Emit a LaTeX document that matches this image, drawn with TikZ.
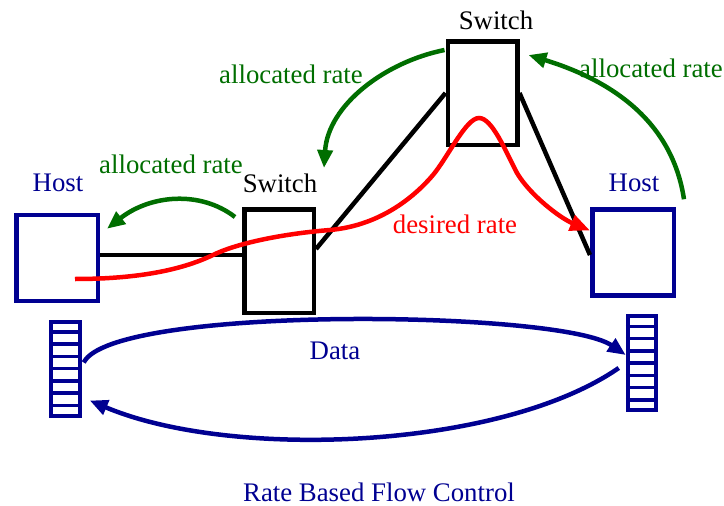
\documentclass[tikz,border=0pt]{standalone}
\usepackage{fontspec}
\setmainfont{Liberation Serif}
\usetikzlibrary{arrows.meta,calc}
\definecolor{hostblue}{RGB}{0,0,145}
\definecolor{rategreen}{RGB}{0,110,0}
\definecolor{flowred}{RGB}{255,0,0}

\begin{document}
\begin{tikzpicture}[x=1pt,y=-1pt,
  font=\fontsize{26.8}{32}\selectfont,
  box/.style={rectangle,draw,line width=4.5pt,inner sep=0pt,fill=white},
  hostbox/.style={box,draw=hostblue,minimum width=81.5pt,minimum height=86pt},
  switchbox/.style={box,draw=black,minimum width=69.5pt,minimum height=103.5pt},
  queuebox/.style={rectangle,draw=hostblue,line width=4pt,inner sep=0pt,minimum width=28.5pt,minimum height=94pt},
  queueline/.style={draw=hostblue,line width=3.5pt},
  txt/.style={anchor=base,inner sep=0pt},
  link/.style={line width=4.5pt,draw=black},
  ratearrow/.style={line width=4.5pt,draw=rategreen,-{Triangle[length=18pt,width=15pt,fill=rategreen]}},
  flowarrow/.style={line width=4.5pt,draw=flowred,-{Triangle[length=20pt,width=16pt,fill=flowred]}},
  dataarrow/.style={line width=4.5pt,draw=hostblue,-{Triangle[length=18pt,width=15pt,fill=hostblue]}},
]
\useasboundingbox (0,0) rectangle (724,506);

% hosts, switches and queues
\node[hostbox] (host1) at (57,258) {};
\node[hostbox] (host2) at (633,252.5) {};
\node[switchbox] (sw1) at (279,261) {};
\node[switchbox] (sw2) at (482.5,93) {};
\node[queuebox] (q1) at (65.5,368.5) {};
\node[queuebox] (q2) at (642,363) {};
\foreach \q in {q1,q2}{
  \foreach \i in {1,...,7}{
    \draw[queueline] ($(\q.north west)!\i/8!(\q.south west)$) -- ($(\q.north east)!\i/8!(\q.south east)$);
  }
}

% labels
\node[txt,hostblue] (host1label) at (58,191) {Host};
\node[txt,hostblue] (host2label) at (634,191) {Host};
\node[txt] (sw1label) at (280,192) {Switch};
\node[txt] (sw2label) at (496,29) {Switch};
\node[txt,rategreen] (rate1) at (291,83) {allocated rate};
\node[txt,rategreen] (rate2) at (171,173) {allocated rate};
\node[txt,rategreen] (rate3) at (651,77) {allocated rate};
\node[txt,flowred] (desired) at (455,233) {desired rate};
\node[txt,hostblue] (data) at (335,359) {Data};
\node[txt,hostblue] (title) at (379,501) {Rate Based Flow Control};

% physical links
\draw[link] ($(host1.east)+(0,-3)$) -- ($(sw1.west)+(0,-6)$);
\draw[link] ($(sw1.east)+(0,-12)$) -- (sw2.west);
\draw[link] (sw2.east) -- ($(host2.west)+(0,2.5)$);

% allocated rate feedback
\draw[ratearrow] ($(sw2.north west)+(-1,11)$) .. controls (385,62) and (328,105) .. ($(sw1.north east)+(8,-39)$);
\draw[ratearrow] ($(sw1.north west)+(-7,10)$) .. controls (200,190) and (150,195) .. ($(host1.north east)+(7,16)$);
\draw[ratearrow] ($(host2.north east)+(8,-8)$) .. controls (672,120) and (610,80) .. ($(sw2.north east)+(9,16)$);

% desired rate path
\coordinate (redstart) at ($(host1.center)+(18,21)$);
\draw[flowarrow] (redstart) .. controls (150,279) and (190,266) .. (213,255)
  .. controls (235,244) and (280,234) .. (330,230)
  .. controls (375,226) and (410,202) .. (433,175)
  .. controls (448,157) and (466,118) .. (479,118)
  .. controls (492,118) and (505,150) .. (517,173)
  .. controls (530,195) and (560,218) .. ($(host2.west)+(0,-22)$);

% data and its return
\draw[dataarrow] ($(q1.east)+(2,-6)$) .. controls (112,305) and (560,310) .. ($(q2.west)+(0,-8)$);
\draw[dataarrow] ($(q2.west)+(-7,5)$) .. controls (500,450) and (230,460) .. ($(q1.east)+(8,32)$);
\end{tikzpicture}
\end{document}
